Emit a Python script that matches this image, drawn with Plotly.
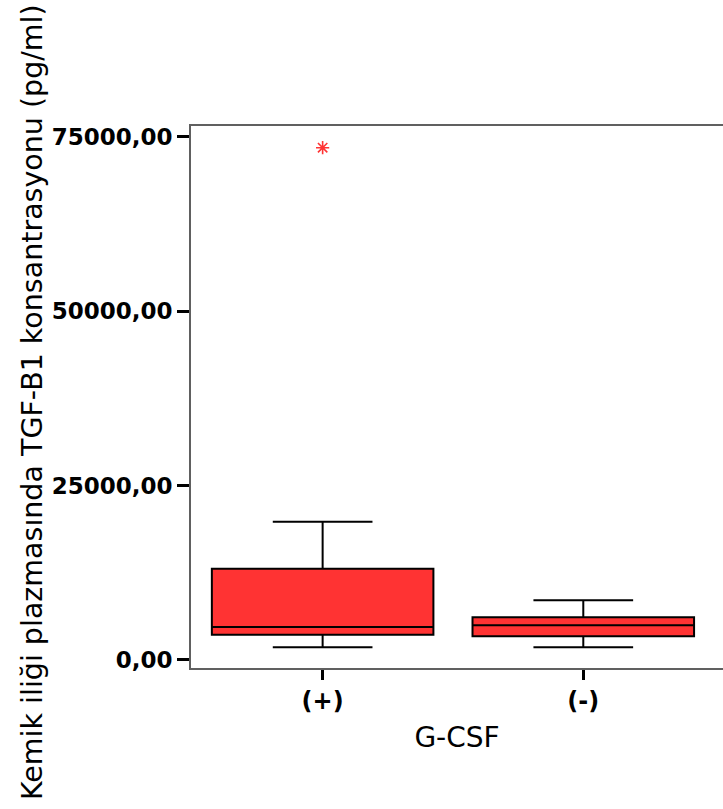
import plotly.graph_objects as go

# Data
groups = ["(+)", "(-)"]
q1 = [3630, 3390]
median = [4730, 4970]
q3 = [13090, 6120]
lower_whisker = [1820, 1820]
upper_whisker = [19820, 8550]
outlier_group = ["(+)"]
outlier_value = [73430]

y_tickvals = [0, 25000, 50000, 75000]
y_ticktext = ["0,00", "25000,00", "50000,00", "75000,00"]

x_title = "G-CSF"
y_title = "Kemik iliği plazmasında TGF-B1 konsantrasyonu (pg/ml)"

RED = "#FF3333"

fig = go.Figure()
fig.add_trace(go.Box(
    x=groups,
    q1=q1, median=median, q3=q3,
    lowerfence=lower_whisker, upperfence=upper_whisker,
    fillcolor=RED,
    line=dict(color="black", width=2),
    width=0.85,
    whiskerwidth=0.45,
    boxpoints=False,
    showlegend=False,
    hoverinfo="skip",
))
fig.add_trace(go.Scatter(
    x=outlier_group, y=outlier_value,
    mode="markers",
    marker=dict(symbol="asterisk-open", size=11, color=RED,
                line=dict(color=RED, width=1.6)),
    showlegend=False,
    hoverinfo="skip",
))

fig.update_layout(
    width=723, height=809,
    margin=dict(l=191, r=0, t=126, b=141),
    paper_bgcolor="white",
    plot_bgcolor="white",
    font=dict(family="DejaVu Sans", color="black"),
    annotations=[dict(
        text=y_title, textangle=-90,
        xref="paper", yref="paper", x=0, y=0.5,
        xanchor="center", yanchor="middle",
        xshift=-159, yshift=-5,
        showarrow=False,
        font=dict(family="DejaVu Sans", size=28.5, color="black"),
    )],
)

fig.update_xaxes(
    type="category",
    categoryorder="array", categoryarray=groups,
    range=[-0.505, 1.536],
    showline=True, linecolor="#606060", linewidth=2, mirror=True,
    showgrid=False, zeroline=False,
    ticks="outside", ticklen=10, tickwidth=3, tickcolor="black",
    tickfont=dict(family="DejaVu Sans", size=24, weight="bold", color="black"),
    title=dict(text=x_title, standoff=14,
               font=dict(family="DejaVu Sans", size=28, color="black")),
)
fig.update_yaxes(
    range=[-1150, 76540],
    tickvals=y_tickvals, ticktext=y_ticktext,
    showline=True, linecolor="#606060", linewidth=2, mirror=False,
    showgrid=False, zeroline=False,
    ticks="outside", ticklen=12, tickwidth=3, tickcolor="black",
    tickfont=dict(family="DejaVu Sans", size=23, weight="bold", color="black"),
)

fig.write_html("out.html")
